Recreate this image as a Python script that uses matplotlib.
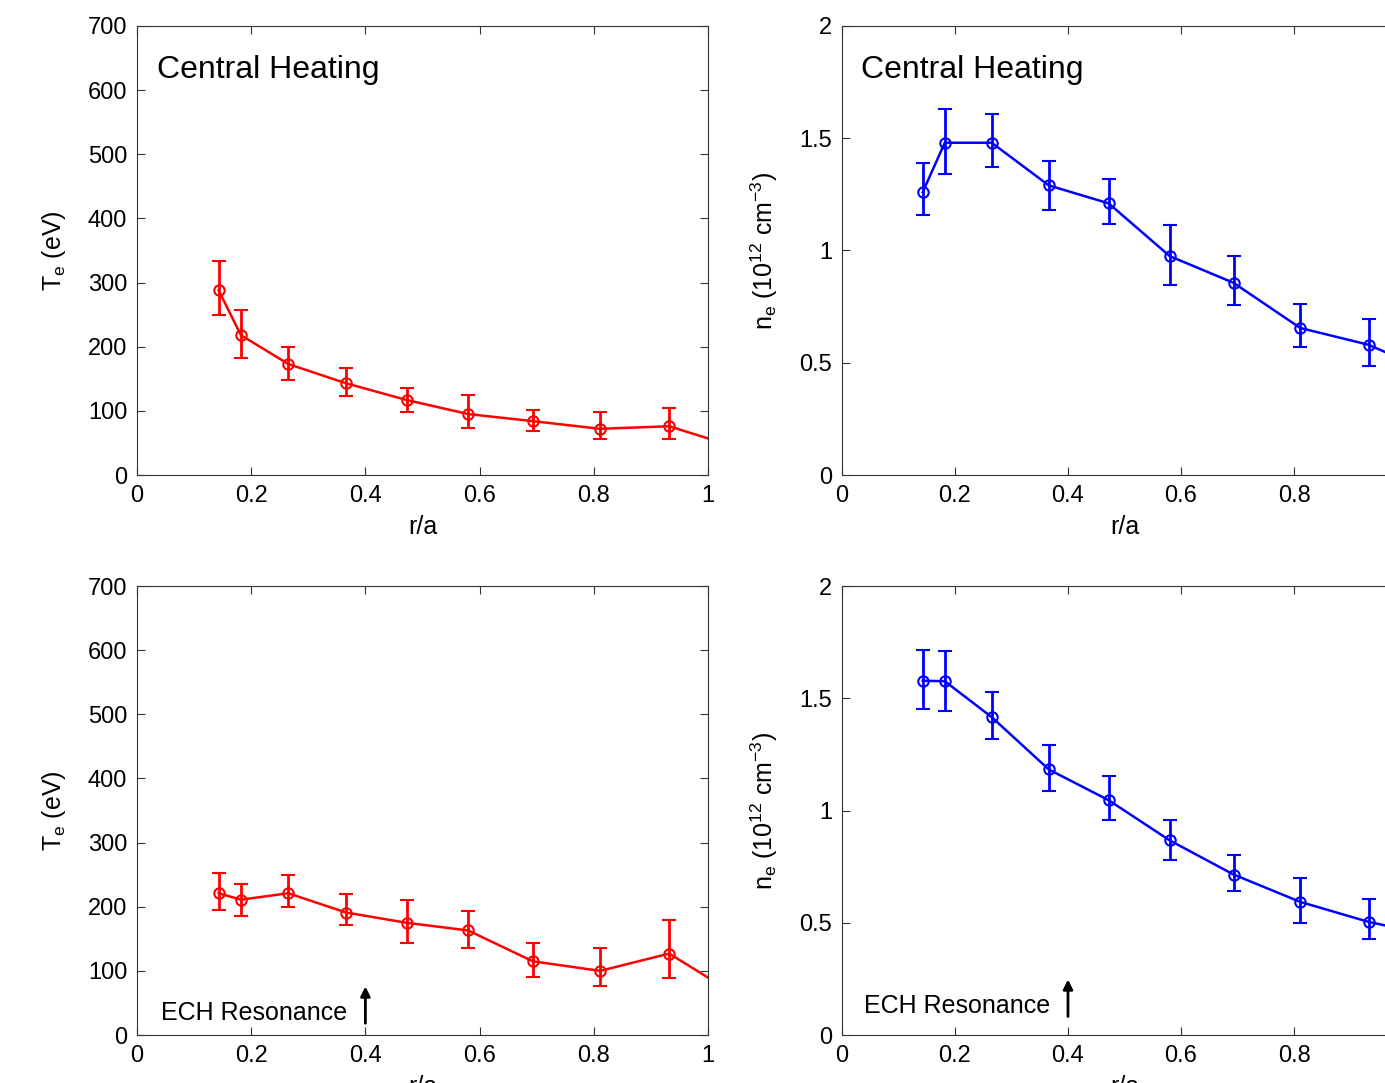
import matplotlib
matplotlib.use("Agg")
import matplotlib.pyplot as plt

plt.rcParams['font.family'] = ['Liberation Sans', 'DejaVu Sans']
plt.rcParams['mathtext.default'] = 'regular'

# radial positions (last one lies past the edge and is clipped)
r_a = [0.143, 0.182, 0.265, 0.366, 0.472, 0.580, 0.693, 0.811, 0.932, 1.05]

# central heating
te_central = [288, 218, 173, 143, 117, 95, 84, 72, 76, 43]
te_central_lo = [38, 35, 25, 20, 18, 21, 16, 16, 20, 15]
te_central_hi = [46, 40, 27, 24, 19, 29, 17, 26, 29, 15]
ne_central = [1.26, 1.48, 1.48, 1.29, 1.21, 0.975, 0.856, 0.655, 0.580, 0.45]
ne_central_lo = [0.10, 0.14, 0.11, 0.11, 0.09, 0.13, 0.10, 0.085, 0.096, 0.09]
ne_central_hi = [0.13, 0.15, 0.13, 0.11, 0.11, 0.14, 0.12, 0.105, 0.113, 0.09]

# off-axis heating (ECH resonance at r/a = 0.4)
te_ech = [221, 211, 221, 191, 175, 163, 115, 100, 127, 62]
te_ech_lo = [26, 25, 22, 19, 31, 27, 24, 24, 38, 25]
te_ech_hi = [31, 25, 28, 29, 36, 30, 29, 36, 52, 25]
ne_ech = [1.578, 1.576, 1.416, 1.183, 1.046, 0.867, 0.715, 0.593, 0.504, 0.44]
ne_ech_lo = [0.125, 0.131, 0.097, 0.098, 0.09, 0.086, 0.074, 0.093, 0.078, 0.08]
ne_ech_hi = [0.138, 0.135, 0.114, 0.107, 0.106, 0.089, 0.086, 0.107, 0.104, 0.08]

fig = plt.figure(figsize=(13.85, 10.83), dpi=100)

ax_tl = fig.add_axes([0.0989, 0.5614, 0.4123, 0.4146])
ax_tr = fig.add_axes([0.6079, 0.5614, 0.4080, 0.4146])
ax_bl = fig.add_axes([0.0989, 0.0443, 0.4123, 0.4146])
ax_br = fig.add_axes([0.6079, 0.0443, 0.4080, 0.4146])


def draw(ax, y, lo, hi, color):
    ax.errorbar(r_a, y, yerr=[lo, hi], color=color, lw=1.8, marker='o',
                ms=7.5, mfc='none', mew=1.5, capsize=5, capthick=2,
                elinewidth=2)
    ax.set_xlim(0, 1)
    ax.set_xticks([0, 0.2, 0.4, 0.6, 0.8, 1])
    ax.set_xticklabels(['0', '0.2', '0.4', '0.6', '0.8', '1'])
    ax.tick_params(direction='in', top=True, right=True, length=6,
                   labelsize=17, color='#333333', pad=7)
    for s in ax.spines.values():
        s.set_color('#333333')
    ax.set_xlabel('r/a', fontsize=18, labelpad=6)


draw(ax_tl, te_central, te_central_lo, te_central_hi, 'red')
draw(ax_bl, te_ech, te_ech_lo, te_ech_hi, 'red')
draw(ax_tr, ne_central, ne_central_lo, ne_central_hi, 'blue')
draw(ax_br, ne_ech, ne_ech_lo, ne_ech_hi, 'blue')

for ax in (ax_tl, ax_bl):
    ax.set_ylim(0, 700)
    ax.set_yticks(range(0, 701, 100))
    ax.set_ylabel(r'T$_e$ (eV)', fontsize=18, labelpad=14)

for ax in (ax_tr, ax_br):
    ax.set_ylim(0, 2)
    ax.set_yticks([0, 0.5, 1, 1.5, 2])
    ax.set_yticklabels(['0', '0.5', '1', '1.5', '2'])
    ax.set_ylabel(r'n$_e$ (10$^{12}$ cm$^{-3}$)', fontsize=18, labelpad=14)

ax_tl.text(0.035, 632, 'Central Heating', fontsize=23, va='center')
ax_tr.text(0.034, 1.805, 'Central Heating', fontsize=23, va='center')

ax_bl.text(0.368, 34, 'ECH Resonance', fontsize=18, va='center', ha='right')
ax_br.text(0.368, 0.13, 'ECH Resonance', fontsize=18, va='center', ha='right')

ax_bl.annotate('', xy=(0.4, 80), xytext=(0.4, 14),
               arrowprops=dict(arrowstyle='-|>', color='black', lw=2,
                               mutation_scale=14))
ax_br.annotate('', xy=(0.4, 0.26), xytext=(0.4, 0.07),
               arrowprops=dict(arrowstyle='-|>', color='black', lw=2,
                               mutation_scale=14))

fig.savefig('out.png', dpi=100)
